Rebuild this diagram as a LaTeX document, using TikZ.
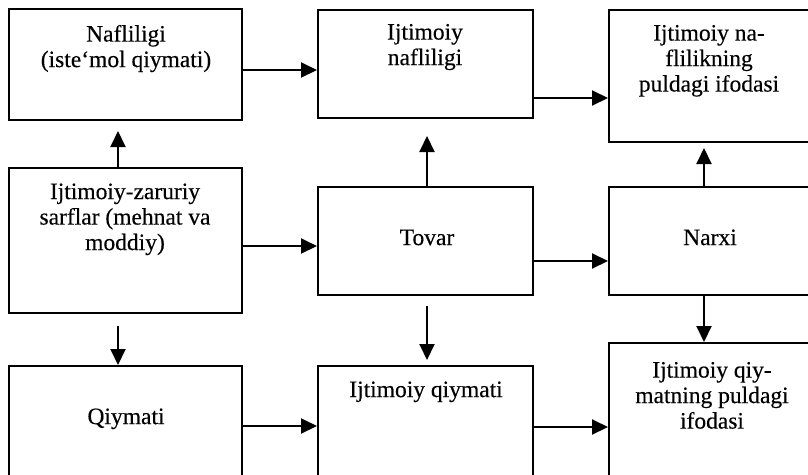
\documentclass[tikz,border=0pt]{standalone}
\usepackage{fontspec}
\setmainfont{Liberation Serif}[FakeBold=0.3]
\usetikzlibrary{arrows.meta}
\tikzset{
  box/.style={draw, line width=2pt, rectangle, inner sep=0pt},
  lbl/.style={anchor=north, inner sep=0pt, align=center, font=\fontsize{23.5}{25.5}\selectfont},
  arr/.style={line width=2pt, -{Triangle[length=16pt,width=15pt]}},
}
\begin{document}
\begin{tikzpicture}[x=1pt,y=-1pt]
\clip (0,0) rectangle (808,474);
% boxes
\node[box, minimum width=233pt, minimum height=111pt] (b1) at (125.5,64.5) {};
\node[box, minimum width=215pt, minimum height=108pt] (b2) at (425.5,64) {};
\node[box, minimum width=201pt, minimum height=132pt] (b3) at (709.5,76) {};
\node[box, minimum width=233pt, minimum height=145pt] (b4) at (125.5,240.5) {};
\node[box, minimum width=215pt, minimum height=108pt] (b5) at (425.5,241) {};
\node[box, minimum width=201pt, minimum height=108pt] (b6) at (709.5,241) {};
\node[box, minimum width=233pt, minimum height=114pt] (b7) at (125.5,423) {};
\node[box, minimum width=215pt, minimum height=114pt] (b8) at (425.5,423) {};
\node[box, minimum width=201pt, minimum height=137pt] (b9) at (709.5,411.5) {};
% texts
\node[lbl] (t1) at (126,23.5) {\strut Nafliligi\\(iste‘mol qiymati)};
\node[lbl] (t2) at (425,21.5) {\strut Ijtimoiy\\nafliligi};
\node[lbl] (t3) at (709,22.5) {\strut Ijtimoiy na-\\flilikning\\puldagi ifodasi};
\node[lbl] (t4) at (125,181) {\strut Ijtimoiy-zaruriy\\sarflar (mehnat va\\moddiy)};
\node[lbl] (t5) at (427,227) {\strut Tovar};
\node[lbl] (t6) at (710,227) {\strut Narxi};
\node[lbl] (t7) at (126,406) {\strut Qiymati};
\node[lbl] (t8) at (426,379) {\strut Ijtimoiy qiymati};
\node[lbl] (t9) at (712,359.5) {\strut Ijtimoiy qiy-\\matning puldagi\\ifodasi};
% guide coordinates
\coordinate (xA) at (118,0);
\coordinate (xB) at (427,0);
\coordinate (xC) at (704,0);
\coordinate (y1) at (0,70);
\coordinate (y2) at (0,98);
\coordinate (y3) at (0,246);
\coordinate (y4) at (0,261);
\coordinate (y5) at (0,426);
\coordinate (y6) at (0,427);
% arrows
\draw[arr] (b1.east |- y1) -- (b2.west |- y1);
\draw[arr] (b2.east |- y2) -- (b3.west |- y2);
\draw[arr, shorten >=10pt] (b4.north -| xA) -- (b1.south -| xA);
\draw[arr, shorten >=17pt] (b5.north -| xB) -- (b2.south -| xB);
\draw[arr, shorten >=5pt] (b6.north -| xC) -- (b3.south -| xC);
\draw[arr] (b4.east |- y3) -- (b5.west |- y3);
\draw[arr] (b5.east |- y4) -- (b6.west |- y4);
\draw[arr, shorten <=12pt] (b4.south -| xA) -- (b7.north -| xA);
\draw[arr, shorten <=10pt, shorten >=5pt] (b5.south -| xB) -- (b8.north -| xB);
\draw[arr] (b6.south -| xC) -- (b9.north -| xC);
\draw[arr] (b7.east |- y5) -- (b8.west |- y5);
\draw[arr] (b8.east |- y6) -- (b9.west |- y6);
\end{tikzpicture}
\end{document}
